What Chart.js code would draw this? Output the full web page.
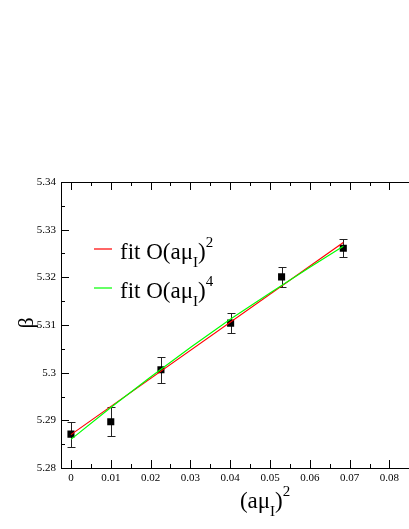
<!DOCTYPE html>
<html>
<head>
<meta charset="utf-8">
<script src="https://cdn.jsdelivr.net/npm/chart.js@4.4.0/dist/chart.umd.min.js"></script>
<style>
html, body { margin: 0; padding: 0; background: #fff; overflow: hidden; }
#wrap { width: 409px; height: 529px; overflow: hidden; }
</style>
</head>
<body>
<div id="wrap"><canvas id="myChart" width="480" height="529"></canvas></div>
<script>
// measured points (beta vs (a mu_I)^2) with errors
const xValues = [0, 0.01, 0.0226, 0.0401, 0.0529, 0.0684];
const betaValues = [5.2871, 5.2897, 5.3006, 5.3104, 5.3201, 5.3261];
const betaErrors = [0.0026, 0.0030, 0.0027, 0.0021, 0.0021, 0.0019];

// fit O(a mu_I)^2
const fit2X = [0, 0.0684];
const fit2Y = [5.2870, 5.3273];
// fit O(a mu_I)^4
const fit4X = [0, 0.01, 0.02, 0.03, 0.04, 0.05, 0.06, 0.0684];
const fit4Y = [5.2860, 5.2927, 5.2991, 5.3053, 5.3112, 5.3167, 5.3221, 5.3265];

const xTicks = [0, 0.01, 0.02, 0.03, 0.04, 0.05, 0.06, 0.07, 0.08, 0.09, 0.1];
const xTickLabels = ['0', '0.01', '0.02', '0.03', '0.04', '0.05', '0.06', '0.07', '0.08', '0.09', '0.1'];
const yTicks = [5.28, 5.29, 5.3, 5.31, 5.32, 5.33, 5.34];
const yTickLabels = ['5.28', '5.29', '5.3', '5.31', '5.32', '5.33', '5.34'];

const seriesNames = ['fit O(aμ', 'fit O(aμ'];
const seriesPowers = ['2', '4'];
const seriesColors = ['rgb(255,0,0)', 'rgb(0,255,0)'];

const SERIF = '"Liberation Serif", "Times New Roman", serif';

function drawRich(ctx, x, base, parts) {
    parts.forEach(p => {
        ctx.font = p.size + 'px ' + SERIF;
        ctx.fillText(p.t, x, base + p.dy);
        x += ctx.measureText(p.t).width;
    });
    return x;
}
function richWidth(ctx, parts) {
    let w = 0;
    parts.forEach(p => {
        ctx.font = p.size + 'px ' + SERIF;
        w += ctx.measureText(p.t).width;
    });
    return w;
}

const frameAndBars = {
    id: 'frameAndBars',
    beforeDatasetsDraw(chart) {
        const { ctx, chartArea: a, scales: { x, y } } = chart;
        ctx.save();
        ctx.strokeStyle = '#000';
        ctx.lineWidth = 1;
        ctx.strokeRect(a.left + 0.5, a.top + 0.5, a.right - a.left, a.bottom - a.top);
        ctx.beginPath();
        for (let i = 0; i <= 20; i++) {
            const px = Math.round(x.getPixelForValue(i * 0.005)) + 0.5;
            const len = i % 2 === 0 ? 8 : 4;
            ctx.moveTo(px, a.bottom); ctx.lineTo(px, a.bottom - len);
            ctx.moveTo(px, a.top); ctx.lineTo(px, a.top + len);
        }
        for (let i = 0; i <= 12; i++) {
            const py = Math.round(y.getPixelForValue(5.28 + i * 0.005)) + 0.5;
            const len = i % 2 === 0 ? 8 : 4;
            ctx.moveTo(a.left, py); ctx.lineTo(a.left + len, py);
            ctx.moveTo(a.right, py); ctx.lineTo(a.right - len, py);
        }
        ctx.stroke();

        // error bars
        ctx.strokeStyle = '#222';
        ctx.beginPath();
        xValues.forEach((v, i) => {
            const px = Math.round(x.getPixelForValue(v)) + 0.5;
            const t = Math.round(y.getPixelForValue(betaValues[i] + betaErrors[i])) + 0.5;
            const b = Math.round(y.getPixelForValue(betaValues[i] - betaErrors[i])) + 0.5;
            ctx.moveTo(px, t); ctx.lineTo(px, b);
            ctx.moveTo(px - 4, t); ctx.lineTo(px + 4, t);
            ctx.moveTo(px - 4, b); ctx.lineTo(px + 4, b);
        });
        ctx.stroke();
        ctx.restore();
    },
    afterDraw(chart) {
        const { ctx, chartArea: a } = chart;
        ctx.save();
        ctx.fillStyle = '#000';
        ctx.textAlign = 'left';
        ctx.textBaseline = 'alphabetic';

        // legend
        seriesNames.forEach((name, i) => {
            const base = 259 + i * 39;
            ctx.strokeStyle = seriesColors[i];
            ctx.lineWidth = 1.2;
            ctx.beginPath();
            ctx.moveTo(94, base - 10);
            ctx.lineTo(112, base - 10);
            ctx.stroke();
            drawRich(ctx, 120, base, [
                { t: name, size: 23, dy: 0 },
                { t: 'I', size: 15, dy: 8 },
                { t: ')', size: 23, dy: 0 },
                { t: seriesPowers[i], size: 15, dy: -12 }
            ]);
        });

        // x title
        const xt = [
            { t: '(aμ', size: 23, dy: 0 },
            { t: 'I', size: 15, dy: 8 },
            { t: ')', size: 23, dy: 0 },
            { t: '2', size: 15, dy: -12 }
        ];
        const cx = (a.left + a.right) / 2;
        drawRich(ctx, cx - richWidth(ctx, xt) / 2, 508, xt);

        // y title
        ctx.translate(27, (a.top + a.bottom) / 2 - 2);
        ctx.rotate(-Math.PI / 2);
        ctx.textAlign = 'center';
        ctx.textBaseline = 'middle';
        ctx.font = '22px ' + SERIF;
        ctx.fillText('β', 0, 0);
        ctx.restore();
    }
};

const ctx = document.getElementById('myChart').getContext('2d');
const myChart = new Chart(ctx, {
    type: 'scatter',
    data: {
        datasets: [
            {
                label: seriesNames[1] + 'I)' + seriesPowers[1],
                data: fit4X.map((v, i) => ({ x: v, y: fit4Y[i] })),
                showLine: true,
                borderColor: seriesColors[1],
                borderWidth: 1.2,
                pointRadius: 0,
                order: 0
            },
            {
                label: seriesNames[0] + 'I)' + seriesPowers[0],
                data: fit2X.map((v, i) => ({ x: v, y: fit2Y[i] })),
                showLine: true,
                borderColor: seriesColors[0],
                borderWidth: 1.2,
                pointRadius: 0,
                order: 1
            },
            {
                label: 'beta',
                data: xValues.map((v, i) => ({ x: v, y: betaValues[i] })),
                pointStyle: 'rect',
                pointRadius: 5,
                backgroundColor: '#000',
                borderColor: '#000',
                borderWidth: 0,
                order: 2
            }
        ]
    },
    options: {
        responsive: false,
        animation: false,
        devicePixelRatio: 1,
        layout: { padding: { left: 0, top: 182, right: 9, bottom: 0 } },
        plugins: { legend: { display: false }, tooltip: { enabled: false } },
        scales: {
            x: {
                type: 'linear',
                min: -0.0025,
                max: 0.1,
                grid: { display: false, drawTicks: false },
                border: { display: false },
                afterBuildTicks: s => { s.ticks = xTicks.map(v => ({ value: v })); },
                afterFit: s => { s.height = 61; },
                ticks: {
                    padding: 4,
                    maxRotation: 0,
                    autoSkip: false,
                    color: '#000',
                    font: { family: SERIF, size: 11 },
                    callback: v => xTickLabels[xTicks.indexOf(v)]
                }
            },
            y: {
                type: 'linear',
                min: 5.28,
                max: 5.34,
                grid: { display: false, drawTicks: false },
                border: { display: false },
                afterBuildTicks: s => { s.ticks = yTicks.map(v => ({ value: v })); },
                afterFit: s => { s.width = 61; },
                ticks: {
                    padding: 5,
                    autoSkip: false,
                    color: '#000',
                    font: { family: SERIF, size: 11 },
                    callback: v => yTickLabels[yTicks.indexOf(v)]
                }
            }
        }
    },
    plugins: [frameAndBars]
});
</script>
</body>
</html>
